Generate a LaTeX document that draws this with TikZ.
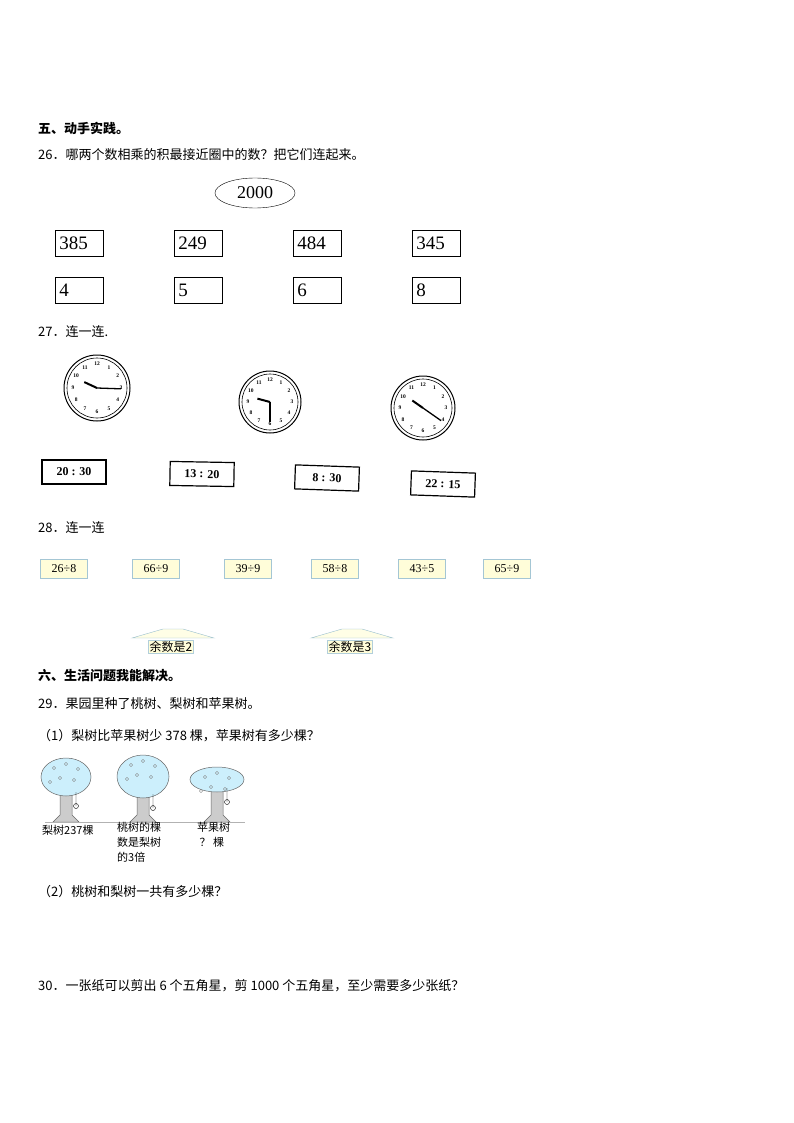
\documentclass[tikz,border=0pt]{standalone}
\usepackage{fontspec}
\usetikzlibrary{shapes.geometric}
\setmainfont{Liberation Serif}
\newfontfamily\cjk{Noto Sans CJK SC}
\begin{document}
\begin{tikzpicture}[x=1pt,y=-1pt,
  txt/.style={anchor=west,inner sep=0,font=\cjk\fontsize{13}{15}\selectfont},
  small/.style={anchor=west,inner sep=0,font=\cjk\fontsize{11}{15}\selectfont},
  numbox/.style={draw,line width=0.8pt,minimum width=48pt,minimum height=26pt,anchor=north west,inner sep=3pt,font=\fontsize{19}{20}\selectfont,text width=40pt,align=left},
  timebox/.style={draw,line width=1.2pt,minimum width=64pt,minimum height=24pt,font=\bfseries\fontsize{12}{14}\selectfont},
  divbox/.style={draw=cyan!40!gray!60,fill=yellow!15,minimum width=47pt,minimum height=19pt,inner sep=1pt,font=\fontsize{12}{13}\selectfont},
  roof/.style={draw=cyan!40!gray!70,fill=yellow!10},
  lab/.style={draw=cyan!40!gray!50,fill=yellow!15,inner sep=1pt,font=\cjk\fontsize{12}{13}\selectfont},
  crown/.style={draw=gray!80!black,fill=cyan!20,line width=0.5pt},
  trunk/.style={draw=gray!80!black,fill=gray!40,line width=0.5pt}]
\useasboundingbox (0,0) rectangle (794,1123);
\node[txt,font=\cjk\bfseries\fontsize{13}{15}\selectfont] (t1) at (38,128) {五、动手实践。};
\node[txt] (t2) at (38,155) {26．哪两个数相乘的积最接近圈中的数？把它们连起来。};
\node[draw,ellipse,minimum width=80pt,minimum height=30pt,font=\fontsize{18}{20}\selectfont] (e) at (255,193) {2000};
\foreach \x/\a/\b [count=\i] in {55/385/4,174/249/5,293/484/6,412/345/8}{
  \node[numbox] (a\i) at (\x,230) {\a};
  \node[numbox] (b\i) at (\x,277) {\b};}
\node[txt] (t3) at (38,332) {27．连一连.};
\foreach \cx/\cy/\r/\ha/\hl/\ma/\ml in {97/388/33/155/14/-2/24, 270/402/31/165/13/-90/20, 423/408/32/145/13/-35/22}{
  \draw[line width=1pt] (\cx,\cy) circle (\r);
  \draw[line width=0.6pt] (\cx,\cy) circle (\r-3);
  \foreach \k in {1,...,12}{
    \pgfmathsetmacro{\px}{\cx+(\r-9)*cos(90-30*\k)}
    \pgfmathsetmacro{\py}{\cy-(\r-9)*sin(90-30*\k)}
    \node[font=\bfseries\fontsize{5.5}{6}\selectfont,inner sep=0] at (\px,\py) {\k};}
  \pgfmathsetmacro{\hx}{\cx+\hl*cos(\ha)}\pgfmathsetmacro{\hy}{\cy-\hl*sin(\ha)}
  \pgfmathsetmacro{\mx}{\cx+\ml*cos(\ma)}\pgfmathsetmacro{\my}{\cy-\ml*sin(\ma)}
  \draw[line width=2pt] (\cx,\cy) -- (\hx,\hy);
  \draw[line width=1.3pt] (\cx,\cy) -- (\mx,\my);}
\node[timebox] (s1) at (74,472) {20 : 30};
\node[timebox,rotate=-1] (s2) at (202,474) {13 : 20};
\node[timebox,rotate=-2] (s3) at (327,478) {8 : 30};
\node[timebox,rotate=-2] (s4) at (443,484) {22 : 15};
\node[txt] (t4) at (38,528) {28．连一连};
\foreach \x/\s [count=\i] in {64/26÷8,156/66÷9,248/39÷9,335/58÷8,422/43÷5,507/65÷9}
  \node[divbox] (d\i) at (\x,569) {\s};
\foreach \x/\s [count=\i] in {173/2,352/3}{
  \draw[roof] (\x-41,638) -- (\x-10,629) -- (\x+10,629) -- (\x+41,638) -- cycle;
  \node[lab] (r\i) at (\x-2,647) {余数是\s};}
\node[txt,font=\cjk\bfseries\fontsize{13}{15}\selectfont] (t5) at (38,676) {六、生活问题我能解决。};
\node[txt] (t6) at (38,704) {29．果园里种了桃树、梨树和苹果树。};
\node[txt] (t7) at (38,736) {（1）梨树比苹果树少 378 棵，苹果树有多少棵？};
\foreach \x/\w/\t/\b in {66/25/758/796,143/26/755/798,217/27/767/792}{
  \draw[trunk] (\x-6,\b-6) -- (\x-6,815) -- (\x-13,822) -- (\x+13,822) -- (\x+6,815) -- (\x+6,\b-6) -- cycle;
  \draw[crown] (\x,{(\t+\b)/2}) ellipse ({\w} and {(\b-\t)/2});
  \foreach \dx/\dy in {-12/10,0/6,12/11,-6/20,8/22,-16/24}
    \draw[gray] (\x+\dx,\t+\dy) circle (1.6);
  \draw (\x+10,\b-4) -- (\x+10,\b+10) circle (2.5);}
\draw[gray!60] (45,822) -- (245,822);
\node[small] (l1) at (42,830) {梨树237棵};
\node[small,align=left,anchor=north west] (l2) at (117,822) {桃树的棵\\数是梨树\\的3倍};
\node[small,align=left,anchor=north west] (l3) at (197,822) {苹果树\\\ ？ 棵};
\node[txt] (t8) at (38,892) {（2）桃树和梨树一共有多少棵？};
\node[txt] (t9) at (38,986) {30．一张纸可以剪出 6 个五角星，剪 1000 个五角星，至少需要多少张纸？};
\end{tikzpicture}
\end{document}
